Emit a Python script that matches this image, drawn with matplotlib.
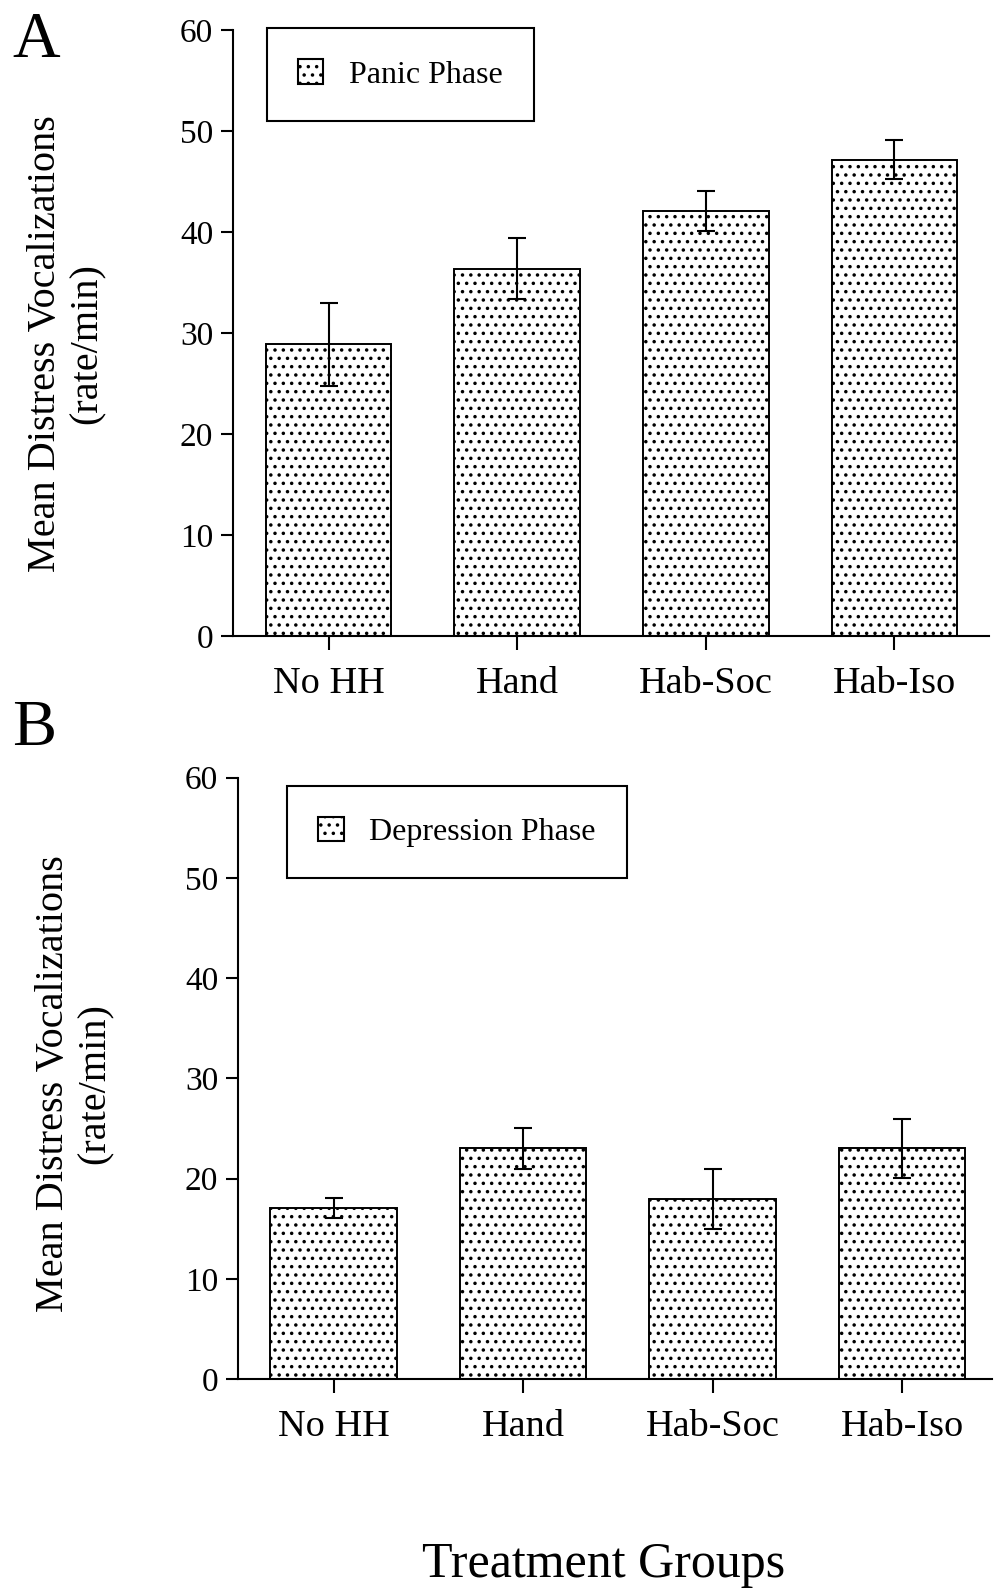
import matplotlib.pyplot as plt
from matplotlib.patches import Patch

# Dados
groups = ['No HH', 'Hand', 'Hab-Soc', 'Hab-Iso']
panic_mean = [28.9, 36.4, 42.1, 47.2]
panic_err = [4.1, 3.0, 2.0, 1.9]
depression_mean = [17.1, 23.0, 18.0, 23.0]
depression_err = [1.0, 2.0, 3.0, 2.9]

plt.rcParams['font.family'] = 'Liberation Serif'
plt.rcParams['hatch.linewidth'] = 1.3

fig = plt.figure(figsize=(9.94, 15.9), dpi=100)

def draw_panel(rect, means, errs, label, xlim, leg_anchor, label_xy):
    ax = fig.add_axes(rect)
    x = range(len(groups))
    ax.bar(x, means, width=0.667, color='white', edgecolor='black',
           linewidth=1.4, hatch='..', zorder=2)
    ax.errorbar(x, means, yerr=errs, fmt='none', ecolor='black',
                elinewidth=1.5, capsize=6.5, capthick=1.5, zorder=3)
    ax.set_xlim(*xlim)
    ax.set_ylim(0, 60)
    ax.set_yticks(range(0, 61, 10))
    ax.set_xticks(list(x))
    ax.set_xticklabels(groups, fontsize=27.5)
    ax.tick_params(axis='y', labelsize=24, length=8.5, width=1.5, pad=6)
    ax.tick_params(axis='x', length=10, width=1.5, pad=12)
    ax.spines['top'].set_visible(False)
    ax.spines['right'].set_visible(False)
    ax.spines['left'].set_linewidth(1.5)
    ax.spines['bottom'].set_linewidth(1.5)
    ax.set_ylabel('Mean Distress Vocalizations\n(rate/min)', fontsize=29,
                  linespacing=1.15)
    ax.yaxis.set_label_coords(*label_xy)
    handle = Patch(facecolor='white', edgecolor='black', hatch='..',
                   linewidth=1.5, label=label)
    leg = ax.legend(handles=[handle], loc='upper left',
                    bbox_to_anchor=leg_anchor, fontsize=23,
                    fancybox=False, framealpha=1, edgecolor='black',
                    borderpad=0.97, borderaxespad=0, handlelength=0.8,
                    handleheight=0.8, handletextpad=0.8)
    leg.get_frame().set_linewidth(1.5)
    return ax

axA = draw_panel([0.2347, 0.6001, 0.760, 0.3808], panic_mean, panic_err,
                 'Panic Phase', (-0.505, 3.5), (0.0443, 1.0034),
                 (-0.169, 0.482))
axB = draw_panel([0.2398, 0.1327, 0.758, 0.3782], depression_mean,
                 depression_err, 'Depression Phase', (-0.503, 3.473),
                 (0.0646, 0.9865), (-0.1655, 0.491))

fig.text(0.012, 0.974, 'A', fontsize=47.5, va='center', ha='left')
fig.text(0.012, 0.5415, 'B', fontsize=47.5, va='center', ha='left')
fig.text(0.607, 0.016, 'Treatment Groups', fontsize=36, ha='center', va='center')

plt.savefig('out.png', dpi=100)
